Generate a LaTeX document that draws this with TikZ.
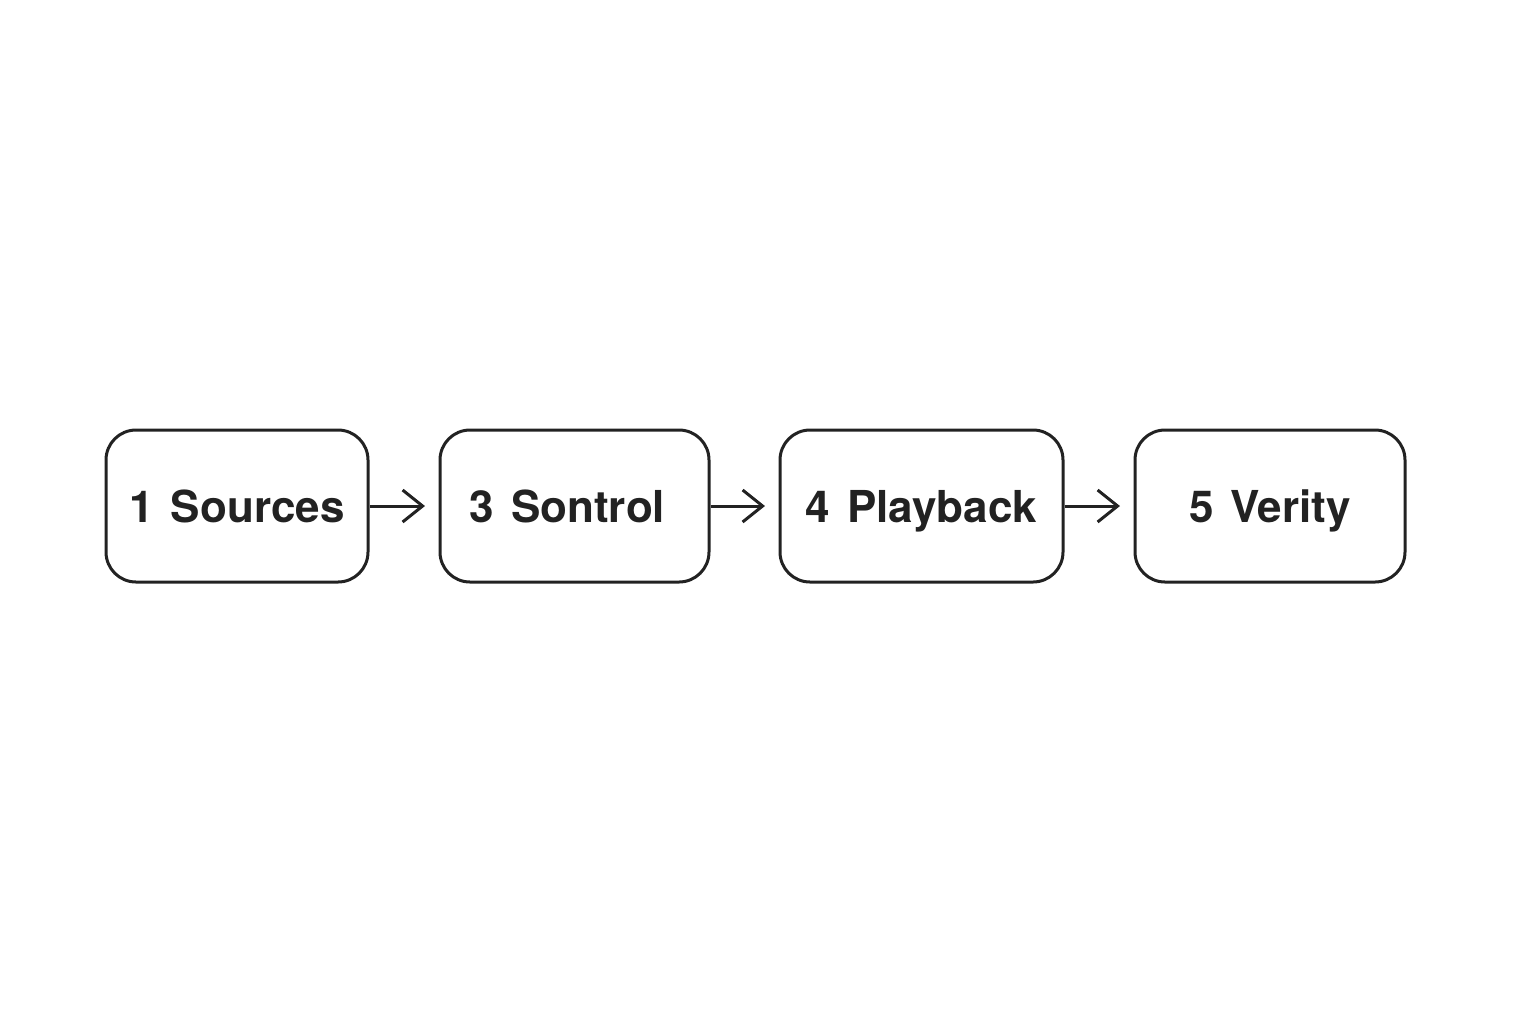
\documentclass[tikz,border=0pt]{standalone}
\usepackage{fontspec}
\setmainfont{TeX Gyre Heros}
\usetikzlibrary{arrows.meta}
\definecolor{ink}{HTML}{222222}
\newcommand{\myStepFont}{\fontsize{22}{26}\selectfont\bfseries\spaceskip=8.5pt plus 1pt minus 1pt\relax}
\begin{document}
\begin{tikzpicture}[x=0.5pt,y=-0.5pt,
  stepbox/.style={draw=ink, line width=1.5pt, rounded corners=15pt, minimum height=76pt, inner sep=0pt, text height=16pt, text depth=0pt, font=\myStepFont, text=ink},
  conn/.style={draw=ink, line width=1.5pt, -{Straight Barb[length=10pt,width=16pt,line width=1.5pt]}}]
\useasboundingbox (0,0) rectangle (1536,1024);
\node[stepbox, minimum width=131pt] (s1) at (237,506) {1 Sources};
\node[stepbox, minimum width=134.5pt] (s2) at (574.5,506) {3 Sontrol\hspace*{7pt}};
\node[stepbox, minimum width=141.5pt] (s3) at (921.5,506) {4 Playback};
\node[stepbox, minimum width=135pt] (s4) at (1270,506) {5 Verity};
\coordinate (e1) at (425,506);
\coordinate (e2) at (765,506);
\coordinate (e3) at (1120,506);
\draw[conn] (s1.east) -- (e1);
\draw[conn] (s2.east) -- (e2);
\draw[conn] (s3.east) -- (e3);
\end{tikzpicture}
\end{document}
